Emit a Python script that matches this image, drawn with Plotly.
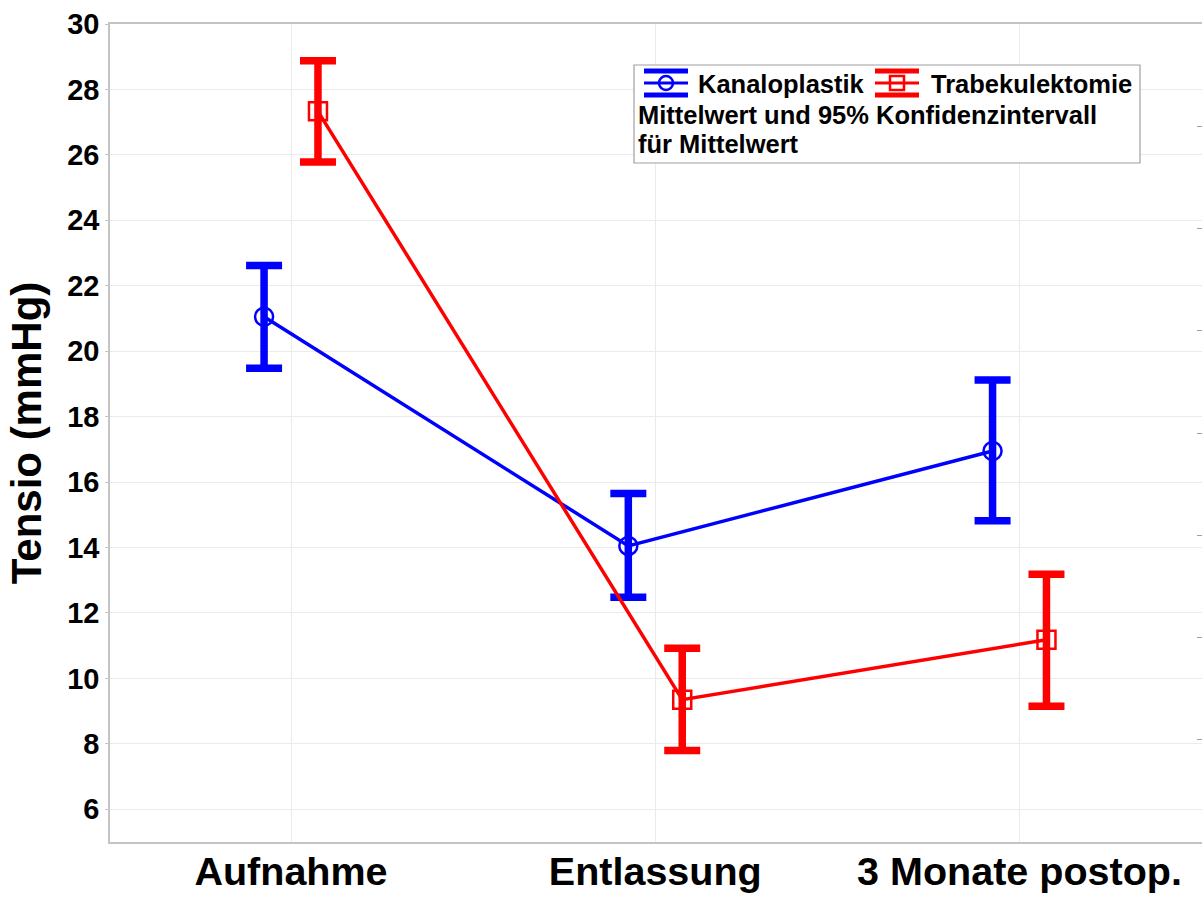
import plotly.graph_objects as go

# Measurement times and group results (mean with 95% CI bounds)
categories = ["Aufnahme", "Entlassung", "3 Monate postop."]
groups = ["Kanaloplastik", "Trabekulektomie"]

kanal_mean = [21.05, 14.05, 16.95]
kanal_upper = [22.62, 15.65, 19.12]
kanal_lower = [19.48, 12.48, 14.82]

trab_mean = [27.33, 9.35, 11.18]
trab_upper = [28.88, 10.92, 13.18]
trab_lower = [25.78, 7.80, 9.15]

y_ticks = list(range(6, 31, 2))

W, H = 1202, 898
ML, MR, MT, MB = 110, 0, 24, 56
PW, PH = W - ML - MR, H - MT - MB
OFFSET = 0.074

BLUE = "#0000ff"
RED = "#ff0000"
FONT = "Liberation Sans, Arial, sans-serif"


def px_x(px):
    return (px - ML) / PW


def px_y(py):
    return (H - MB - py) / PH


def series(name, means, upper, lower, shift, color, symbol, msize):
    xs = [i + shift for i in range(len(means))]
    return go.Scatter(
        x=xs, y=means, name=name, mode="lines+markers",
        line=dict(color=color, width=3.5),
        marker=dict(symbol=symbol, size=msize, color=color,
                    line=dict(color=color, width=2.5)),
        error_y=dict(type="data", symmetric=False,
                     array=[u - m for u, m in zip(upper, means)],
                     arrayminus=[m - l for m, l in zip(means, lower)],
                     color=color, thickness=7.5, width=18),
        showlegend=False,
    )


fig = go.Figure()
fig.add_trace(series(groups[0], kanal_mean, kanal_upper, kanal_lower, -OFFSET,
                     BLUE, "circle-open", 18))
fig.add_trace(series(groups[1], trab_mean, trab_upper, trab_lower, OFFSET,
                     RED, "square-open", 18))

# invisible trace to carry the right-hand tick axis
fig.add_trace(go.Scatter(x=[0], y=[0], yaxis="y2", mode="markers",
                         marker=dict(opacity=0), showlegend=False,
                         hoverinfo="skip"))

shapes = []
annotations = []

# legend box
shapes.append(dict(type="rect", xref="paper", yref="paper",
                   x0=px_x(634), x1=px_x(1140), y0=px_y(163), y1=px_y(65),
                   line=dict(color="#a0a0a0", width=1.2), fillcolor="white",
                   layer="above"))


def legend_glyph(x0, x1, color, kind):
    cy = 83
    for yy in (71, 95):
        shapes.append(dict(type="line", xref="paper", yref="paper",
                           x0=px_x(x0), x1=px_x(x1), y0=px_y(yy), y1=px_y(yy),
                           line=dict(color=color, width=5), layer="above"))
    shapes.append(dict(type="line", xref="paper", yref="paper",
                       x0=px_x(x0), x1=px_x(x1), y0=px_y(cy), y1=px_y(cy),
                       line=dict(color=color, width=3), layer="above"))
    cx = (x0 + x1) / 2
    r = 7
    shapes.append(dict(type="circle" if kind == "circle" else "rect",
                       xref="paper", yref="paper",
                       x0=px_x(cx - r), x1=px_x(cx + r),
                       y0=px_y(cy + r), y1=px_y(cy - r),
                       line=dict(color=color, width=2.5), layer="above"))


legend_glyph(644, 688, BLUE, "circle")
legend_glyph(875, 919, RED, "square")

legend_font = dict(family=FONT, size=25.5, color="black", weight="bold")
annotations.append(dict(text=groups[0], xref="paper", yref="paper",
                        x=px_x(696), y=px_y(84), xanchor="left", yanchor="middle",
                        showarrow=False, font=legend_font))
annotations.append(dict(text=groups[1], xref="paper", yref="paper",
                        x=px_x(929), y=px_y(84), xanchor="left", yanchor="middle",
                        showarrow=False, font=legend_font))
annotations.append(dict(text="Mittelwert und 95% Konfidenzintervall", xref="paper",
                        yref="paper", x=px_x(636), y=px_y(115), xanchor="left",
                        yanchor="middle", showarrow=False, font=legend_font))
annotations.append(dict(text="für Mittelwert", xref="paper", yref="paper",
                        x=px_x(636), y=px_y(144), xanchor="left", yanchor="middle",
                        showarrow=False, font=legend_font))

fig.update_layout(
    width=W, height=H,
    margin=dict(l=ML, r=MR, t=MT, b=MB, autoexpand=False),
    paper_bgcolor="white", plot_bgcolor="white",
    font=dict(family=FONT, color="black"),
    shapes=shapes, annotations=annotations,
    xaxis=dict(
        range=[-0.497, 2.501], tickmode="array", tickvals=[0, 1, 2],
        ticktext=categories, showgrid=True, gridcolor="#ebebeb", gridwidth=1,
        zeroline=False, showline=True, linecolor="#c4c4c4", linewidth=1.5,
        ticks="", tickfont=dict(family=FONT, size=39.5, color="black", weight="bold"),
        ticklabelstandoff=-6, mirror=True, automargin=False,
    ),
    yaxis=dict(
        range=[5, 30], tickmode="array", tickvals=y_ticks,
        showgrid=True, gridcolor="#ebebeb", gridwidth=1, zeroline=False,
        showline=True, linecolor="#c4c4c4", linewidth=1.5,
        ticks="outside", ticklen=3, tickcolor="#c4c4c4",
        tickfont=dict(family=FONT, size=29, color="black", weight="bold"),
        title=dict(text="Tensio (mmHg)", standoff=12,
                   font=dict(family=FONT, size=42, color="black", weight="bold")),
        automargin=False,
    ),
    yaxis2=dict(
        overlaying="y", side="right", range=[0, 8], tickmode="linear", dtick=1,
        showgrid=False, zeroline=False, showticklabels=False,
        ticks="inside", ticklen=5, tickcolor="#a0a0a0", showline=False,
        automargin=False,
    ),
)

fig.write_html("out.html")
